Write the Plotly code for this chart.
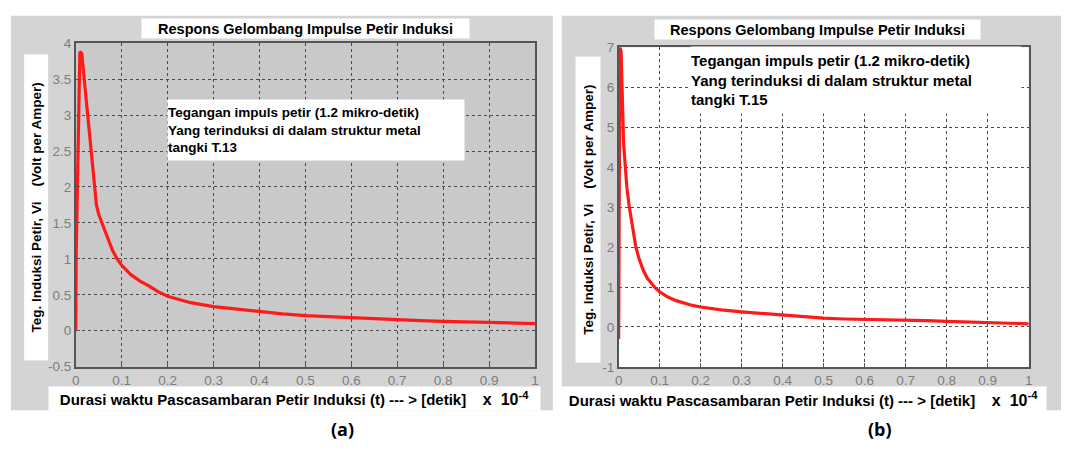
import plotly.graph_objects as go

# ---------------- data (time in units of 1e-4 s) ----------------
t_a = [0, 0.001, 0.009, 0.013, 0.045, 0.05, 0.06, 0.07, 0.08, 0.09, 0.1, 0.12, 0.14,
       0.16, 0.18, 0.2, 0.25, 0.3, 0.35, 0.4, 0.45, 0.5, 0.55, 0.6, 0.65, 0.7, 0.75,
       0.8, 0.85, 0.9, 0.95, 1.0]
v_a = [0, 1.1, 3.88, 3.86, 1.75, 1.62, 1.45, 1.27, 1.12, 1.0, 0.91, 0.78, 0.69,
       0.62, 0.54, 0.48, 0.39, 0.335, 0.30, 0.27, 0.235, 0.21, 0.195, 0.18, 0.16, 0.145, 0.14,
       0.13, 0.125, 0.115, 0.11, 0.10]

t_b = [0, 0, 0.003, 0.006, 0.012, 0.02, 0.026, 0.035, 0.042, 0.05, 0.06, 0.07, 0.08,
       0.09, 0.1, 0.12, 0.14, 0.16, 0.18, 0.2, 0.25, 0.3, 0.35, 0.4, 0.45, 0.5, 0.55,
       0.6, 0.65, 0.7, 0.75, 0.8, 0.85, 0.9, 0.95, 1.0]
v_b = [0, -0.3, 7.0, 6.9, 4.6, 3.5, 3.0, 2.4, 2.0, 1.7, 1.42, 1.22, 1.08,
       0.97, 0.88, 0.75, 0.66, 0.59, 0.54, 0.5, 0.43, 0.38, 0.34, 0.3, 0.26, 0.22, 0.2,
       0.19, 0.185, 0.18, 0.16, 0.14, 0.13, 0.12, 0.11, 0.08]

x_tickvals = [0, 0.1, 0.2, 0.3, 0.4, 0.5, 0.6, 0.7, 0.8, 0.9, 1]
x_ticktext = ["0", "0.1", "0.2", "0.3", "0.4", "0.5", "0.6", "0.7", "0.8", "0.9", "1"]
ya_tickvals = [-0.5, 0, 0.5, 1, 1.5, 2, 2.5, 3, 3.5, 4]
ya_ticktext = ["-0.5", "0", "0.5", "1", "1.5", "2", "2.5", "3", "3.5", "4"]
yb_tickvals = [-1, 0, 1, 2, 3, 4, 5, 6, 7]
yb_ticktext = ["-1", "0", "1", "2", "3", "4", "5", "6", "7"]

title_text = "Respons Gelombang Impulse Petir Induksi"
note_a = "Tegangan impuls petir (1.2 mikro-detik)<br>Yang terinduksi di dalam struktur metal<br>tangki T.13"
note_b = "Tegangan impuls petir (1.2 mikro-detik)<br>Yang terinduksi di dalam struktur metal<br>tangki T.15"
ylab = "Teg. Induksi Petir, Vi\u00a0\u00a0\u00a0\u00a0(Volt per Amper)"
xlab = ("Durasi waktu Pascasambaran Petir Induksi (t) --- > [detik]\u00a0\u00a0\u00a0 "
        "<span style='font-size:16px'>x\u00a0 10<sup>-4</sup></span>")

# ---------------- layout helpers ----------------
W, H = 1065, 452
def px(x):
    return x / W
def py(y):
    return 1 - y / H

FONT = "Arial, Liberation Sans, sans-serif"
RED = "#ff1a1a"

fig = go.Figure()
fig.add_trace(go.Scatter(x=t_a, y=v_a, mode="lines", line=dict(color=RED, width=3.2),
                         xaxis="x", yaxis="y", showlegend=False))
fig.add_trace(go.Scatter(x=t_b, y=v_b, mode="lines", line=dict(color=RED, width=3.2),
                         xaxis="x2", yaxis="y2", showlegend=False))

axis_common = dict(showline=True, mirror=True, linecolor="#555555", linewidth=1.5,
                   showgrid=True, gridcolor="#4a4a4a", griddash="dot", gridwidth=1,
                   zeroline=False, ticks="inside", ticklen=4, tickcolor="#555555",
                   tickfont=dict(family=FONT, size=13.5, color="#7d7d7d"), fixedrange=True)

AX_L = (72.3, 535)
AY_L = (37.5, 372)
AX_R = (619.3, 1032.5)
AY_R = (41.7, 372.3)

fig.update_layout(
    width=W, height=H, margin=dict(l=0, r=0, t=0, b=0),
    paper_bgcolor="white", plot_bgcolor="rgba(0,0,0,0)",
    xaxis=dict(domain=[px(AX_L[0]), px(AX_L[1])], range=[0, 1], tickvals=x_tickvals,
               ticktext=x_ticktext, anchor="y", **axis_common),
    yaxis=dict(domain=[py(AY_L[1]), py(AY_L[0])], range=[-0.5, 4], tickvals=ya_tickvals,
               ticktext=ya_ticktext, anchor="x", **axis_common),
    xaxis2=dict(domain=[px(AX_R[0]), px(AX_R[1])], range=[0, 1], tickvals=x_tickvals,
                ticktext=x_ticktext, anchor="y2", **axis_common),
    yaxis2=dict(domain=[py(AY_R[1]), py(AY_R[0])], range=[-1, 7], tickvals=yb_tickvals,
                ticktext=yb_ticktext, anchor="x2", **axis_common),
)

# background panels (all paper-referenced so they sit under the grid)
shapes = [
    dict(type="rect", xref="paper", yref="paper", x0=px(7), x1=px(553), y0=py(417), y1=py(9),
         fillcolor="#d4d4d4", line_width=0, layer="below"),
    dict(type="rect", xref="paper", yref="paper", x0=px(562), x1=px(1065), y0=py(417), y1=py(9),
         fillcolor="#d4d4d4", line_width=0, layer="below"),
    dict(type="rect", xref="paper", yref="paper", x0=px(AX_L[0]), x1=px(AX_L[1]),
         y0=py(AY_L[1]), y1=py(AY_L[0]), fillcolor="#c9c9c9", line_width=0, layer="below"),
    dict(type="rect", xref="paper", yref="paper", x0=px(AX_R[0]), x1=px(AX_R[1]),
         y0=py(AY_R[1]), y1=py(AY_R[0]), fillcolor="white", line_width=0, layer="below"),
]
fig.update_layout(shapes=shapes)

def box(text, cx, cy, w, h, size, align="center", angle=0, pad=0):
    return dict(text=text, xref="paper", yref="paper", x=px(cx), y=py(cy),
                xanchor="center", yanchor="middle", showarrow=False,
                width=w, height=h, align=align, valign="middle", textangle=angle,
                bgcolor="white", borderpad=pad,
                font=dict(family=FONT, size=size, color="black", weight="bold"))

ann = [
    box(title_text, 303.5, 22.5, 327, 19, 14.5),
    box(title_text, 820, 23.5, 325, 19, 14.5),
    box(note_a, 314.5, 127, 296, 60, 13.5, align="left"),
    box(note_b, 858, 76, 330, 66, 15, align="left"),
    box(ylab, 32.5, 207.5, 305, 23, 13.5, angle=-90),
    box(ylab, 588, 209.5, 305, 24, 13.5, angle=-90),
    box(xlab, 292.5, 404.5, 491, 23, 15),
    box(xlab, 805.5, 405, 485, 24, 15),
]
ann.append(dict(text="(a)", xref="paper", yref="paper", x=px(341), y=py(437), showarrow=False,
                xanchor="center", yanchor="middle",
                font=dict(family="Open Sans, sans-serif", size=18, color="black", weight="bold")))
ann.append(dict(text="(b)", xref="paper", yref="paper", x=px(883), y=py(436), showarrow=False,
                xanchor="center", yanchor="middle",
                font=dict(family="Open Sans, sans-serif", size=18, color="black", weight="bold")))
fig.update_layout(annotations=ann)

fig.write_html("out.html")
